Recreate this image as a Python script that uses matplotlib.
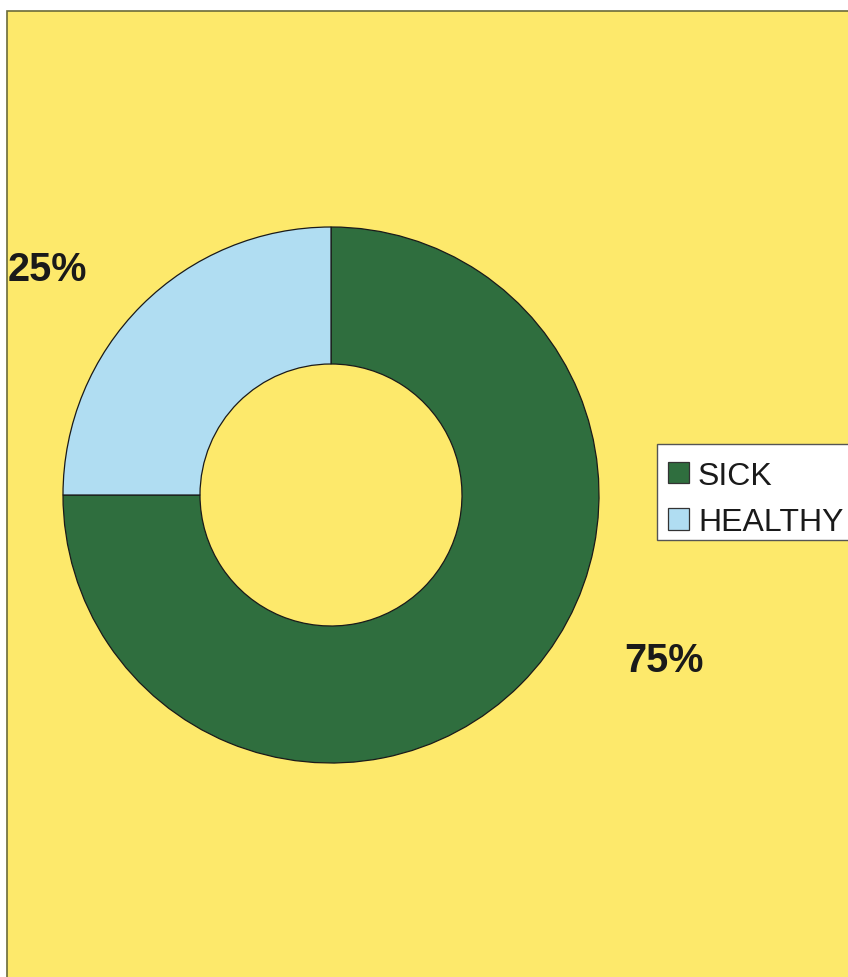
import matplotlib.pyplot as plt
from matplotlib.patches import Rectangle, Patch

labels = ['SICK', 'HEALTHY']
values = [75, 25]
colors = ['#2f6e3e', '#b0ddf2']

W, H = 848, 978
fig = plt.figure(figsize=(W / 100, H / 100), dpi=100)
fig.patch.set_facecolor('white')

ax = fig.add_axes([0, 0, 1, 1])

# yellow chart area with a thin frame on the left and top
ax.add_patch(Rectangle((7, -5), W, H - 12 + 5, facecolor='#fde96b',
                       edgecolor='#6b6b3a', linewidth=1.2, zorder=0))

wedges, _ = ax.pie(values, colors=colors, startangle=90, counterclock=False,
                   center=(331, H - 496), radius=268, frame=True,
                   wedgeprops=dict(width=137, edgecolor='#1a1a1a', linewidth=0.9))
ax.set_xlim(0, W)
ax.set_ylim(0, H)
ax.axis('off')

ax.text(8, H - 270, f'{values[1]}%', fontsize=28.5, fontweight='bold',
        family='Liberation Sans', color='#1a1a1a', ha='left', va='center')
ax.text(624, H - 661, f'{values[0]}%', fontsize=28.5, fontweight='bold',
        family='Liberation Sans', color='#1a1a1a', ha='left', va='center')

# legend box, running off the right edge
ax.add_patch(Rectangle((657, H - 541), 200, 96, facecolor='white',
                       edgecolor='#555555', linewidth=1.0, zorder=3))
handles = [Patch(facecolor=c, edgecolor='#333333', linewidth=0.9) for c in colors]
leg = ax.legend(handles, labels, loc='center left',
                bbox_to_anchor=(668 / W, (H - 500) / H),
                frameon=False, handlelength=0.66, handleheight=0.66,
                handletextpad=0.28, borderpad=0, borderaxespad=0, labelspacing=0.52,
                prop={'family': 'Liberation Sans', 'size': 23})
leg.set_zorder(4)
for t in leg.get_texts():
    t.set_color('#1a1a1a')

fig.savefig('out.png', dpi=100, facecolor='white')
